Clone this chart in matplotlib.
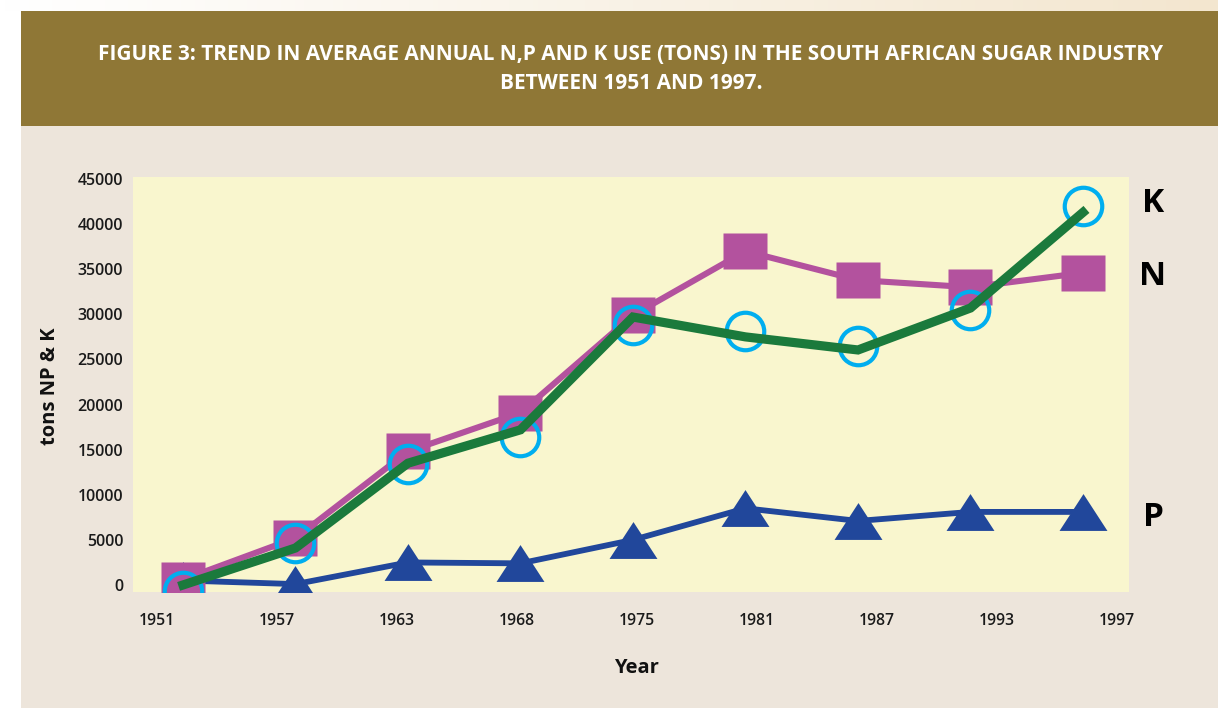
import numpy as np
import matplotlib
matplotlib.use("Agg")
import matplotlib.pyplot as plt
from matplotlib.patches import Rectangle

# ---- data ----
year_labels = ["1951", "1957", "1963", "1968", "1975", "1981", "1987", "1993", "1997"]
n_values = [600, 5200, 14800, 19100, 29900, 37000, 33800, 33000, 34600]
k_markers = [-700, 4700, 13400, 16400, 28800, 28100, 26500, 30500, 42000]
k_line = [0, 4100, 13500, 17200, 29700, 27500, 26050, 30700, 41300]
p_values = [500, 100, 2500, 2400, 5000, 8500, 7100, 8100, 8100]
y_ticks = [0, 5000, 10000, 15000, 20000, 25000, 30000, 35000, 40000, 45000]

title = ("FIGURE 3: TREND IN AVERAGE ANNUAL N,P AND K USE (TONS) IN THE SOUTH AFRICAN SUGAR INDUSTRY\n"
         "BETWEEN 1951 AND 1997.")

# ---- style ----
W, H = 1218, 708
C_HEADER = "#8F7736"
C_PANEL = "#EDE5DB"
C_PLOT = "#F9F6CE"
C_N = "#B3529E"
C_K = "#00AEEF"
C_KL = "#1B7A3C"
C_P = "#21479B"

plt.rcParams["font.family"] = ["Open Sans", "DejaVu Sans"]

fig = plt.figure(figsize=(W / 100, H / 100), dpi=100, facecolor="white")

def fx(px):
    return px / W

def fy(py):
    return 1 - py / H

# top gradient strip
gax = fig.add_axes([0, fy(11), 1, 11 / H])
grad = np.linspace(0, 1, 256)[None, :, None]
c0 = np.array([1.0, 1.0, 1.0])
c1 = np.array([0xF3, 0xE6, 0xCF]) / 255
gax.imshow(c0 + (c1 - c0) * grad, aspect="auto", extent=[0, 1, 0, 1])
gax.axis("off")

# panel and header
fig.add_artist(Rectangle((fx(21), 0), 1 - fx(21), fy(126), transform=fig.transFigure,
                         facecolor=C_PANEL, edgecolor="none", zorder=0))
fig.add_artist(Rectangle((fx(21), fy(126)), 1 - fx(21), (126 - 11) / H, transform=fig.transFigure,
                         facecolor=C_HEADER, edgecolor="none", zorder=0))
fig.text(fx(631), fy(69), title, ha="center", va="center", color="white",
         fontsize=15, fontweight="bold", linespacing=1.45)

# plot axes
ax = fig.add_axes([fx(133), fy(592), (1129 - 133) / W, (592 - 177) / H])
ax.set_facecolor(C_PLOT)
for s in ax.spines.values():
    s.set_visible(False)

x = np.arange(len(year_labels))
sq = [(-1.23, -1), (1.23, -1), (1.23, 1), (-1.23, 1), (-1.23, -1)]
tri = [(0, 1), (-1.3, -1), (1.3, -1), (0, 1)]

ax.plot(x, p_values, color=C_P, lw=4.2, marker=tri, markersize=34.5,
        markerfacecolor=C_P, markeredgecolor="none", zorder=2)
ax.plot(x, n_values, color=C_N, lw=4.4, marker=sq, markersize=31,
        markerfacecolor=C_N, markeredgecolor="none", zorder=3)
ax.plot(x, k_markers, linestyle="none", marker="o", markersize=27,
        markerfacecolor="none", markeredgecolor=C_K, markeredgewidth=3, zorder=4)
ax.plot(x, k_line, color=C_KL, lw=6.6, solid_joinstyle="miter", zorder=5)

ax.set_xlim(-0.444, 8.409)
ax.set_ylim(-776, 45222)
ax.set_yticks(y_ticks)
ax.set_yticklabels([str(v) for v in y_ticks])
ax.set_xticks(np.linspace(-0.231, 8.30, len(year_labels)))
ax.set_xticklabels(year_labels)
ax.tick_params(axis="y", length=0, pad=7, labelsize=11.5, labelcolor="#1a1a1a")
ax.tick_params(axis="x", length=0, pad=15, labelsize=11.3, labelcolor="#1a1a1a")
for lab in ax.get_xticklabels() + ax.get_yticklabels():
    lab.set_fontweight("semibold")

fig.text(fx(50), fy(386), "tons NP & K", rotation=90, ha="center", va="center",
         fontsize=14.5, fontweight="bold", color="#111111")
fig.text(fx(636), fy(668), "Year", ha="center", va="center",
         fontsize=14.5, fontweight="bold", color="#111111")

for lab, yy in [("K", 203), ("N", 277), ("P", 518)]:
    fig.text(fx(1153), fy(yy), lab, ha="center", va="center", fontsize=24,
             fontweight="bold", color="black")

fig.savefig("out.png", dpi=100, facecolor=fig.get_facecolor())
